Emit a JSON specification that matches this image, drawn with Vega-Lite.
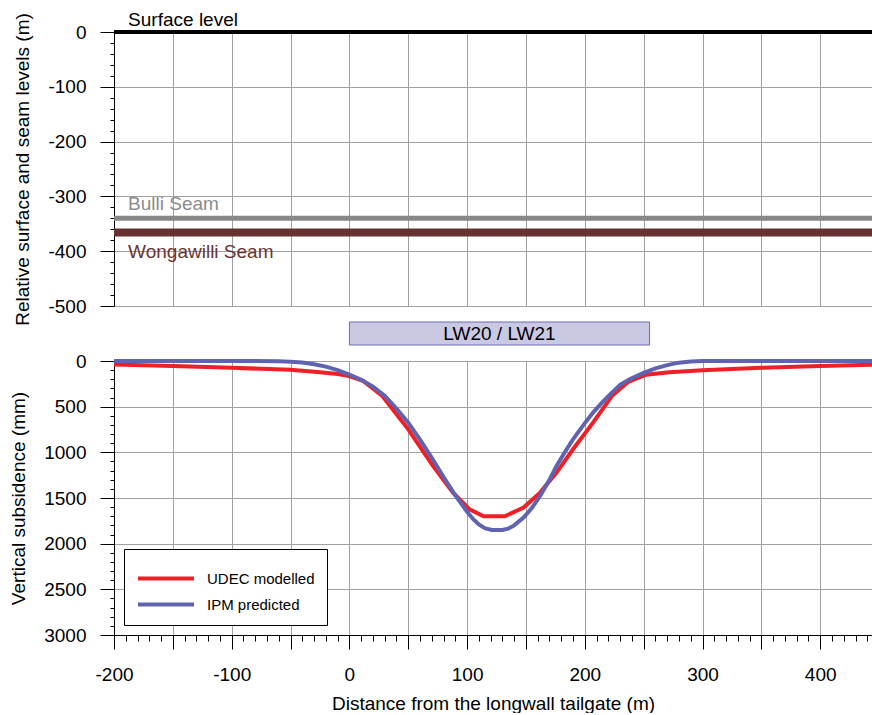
{
  "$schema": "https://vega.github.io/schema/vega-lite/v6.json",
  "padding": {"left": 9, "top": 11, "right": 0, "bottom": 0},
  "spacing": 16,
  "bounds": "flush",
  "resolve": {"scale": {"color": "independent"}, "legend": {"color": "independent"}},
  "datasets": {
    "levels": [
      {"name": "Surface level", "level": 0},
      {"name": "Bulli Seam", "level": -340},
      {"name": "Wongawilli Seam", "level": -366}
    ],
    "panels": [
      {"panel": "LW20 / LW21", "start": 0, "end": 255}
    ],
    "subsidence": [
      {"series": "UDEC modelled", "x": -200, "s": 38},
      {"series": "UDEC modelled", "x": -150, "s": 55},
      {"series": "UDEC modelled", "x": -100, "s": 74},
      {"series": "UDEC modelled", "x": -50, "s": 97},
      {"series": "UDEC modelled", "x": -25, "s": 122},
      {"series": "UDEC modelled", "x": -10, "s": 142},
      {"series": "UDEC modelled", "x": 0, "s": 165},
      {"series": "UDEC modelled", "x": 12, "s": 220},
      {"series": "UDEC modelled", "x": 28, "s": 383},
      {"series": "UDEC modelled", "x": 50, "s": 748},
      {"series": "UDEC modelled", "x": 71, "s": 1149},
      {"series": "UDEC modelled", "x": 88, "s": 1441},
      {"series": "UDEC modelled", "x": 102, "s": 1623},
      {"series": "UDEC modelled", "x": 114, "s": 1700},
      {"series": "UDEC modelled", "x": 132, "s": 1700},
      {"series": "UDEC modelled", "x": 148, "s": 1605},
      {"series": "UDEC modelled", "x": 162, "s": 1441},
      {"series": "UDEC modelled", "x": 176, "s": 1222},
      {"series": "UDEC modelled", "x": 190, "s": 966},
      {"series": "UDEC modelled", "x": 207, "s": 675},
      {"series": "UDEC modelled", "x": 223, "s": 383},
      {"series": "UDEC modelled", "x": 237, "s": 228},
      {"series": "UDEC modelled", "x": 252, "s": 150},
      {"series": "UDEC modelled", "x": 272, "s": 122},
      {"series": "UDEC modelled", "x": 300, "s": 100},
      {"series": "UDEC modelled", "x": 350, "s": 74},
      {"series": "UDEC modelled", "x": 400, "s": 55},
      {"series": "UDEC modelled", "x": 444, "s": 41},
      {"series": "IPM predicted", "x": -200, "s": 0},
      {"series": "IPM predicted", "x": -100, "s": 0},
      {"series": "IPM predicted", "x": -60, "s": 2},
      {"series": "IPM predicted", "x": -50, "s": 7},
      {"series": "IPM predicted", "x": -40, "s": 16},
      {"series": "IPM predicted", "x": -30, "s": 35},
      {"series": "IPM predicted", "x": -20, "s": 62},
      {"series": "IPM predicted", "x": -10, "s": 100},
      {"series": "IPM predicted", "x": 0, "s": 148},
      {"series": "IPM predicted", "x": 10, "s": 205},
      {"series": "IPM predicted", "x": 20, "s": 280},
      {"series": "IPM predicted", "x": 30, "s": 380},
      {"series": "IPM predicted", "x": 40, "s": 520},
      {"series": "IPM predicted", "x": 50, "s": 675},
      {"series": "IPM predicted", "x": 60, "s": 860},
      {"series": "IPM predicted", "x": 70, "s": 1060},
      {"series": "IPM predicted", "x": 80, "s": 1270},
      {"series": "IPM predicted", "x": 90, "s": 1470},
      {"series": "IPM predicted", "x": 100, "s": 1650},
      {"series": "IPM predicted", "x": 105, "s": 1730},
      {"series": "IPM predicted", "x": 110, "s": 1790},
      {"series": "IPM predicted", "x": 115, "s": 1830},
      {"series": "IPM predicted", "x": 121, "s": 1850},
      {"series": "IPM predicted", "x": 130, "s": 1850},
      {"series": "IPM predicted", "x": 135, "s": 1835},
      {"series": "IPM predicted", "x": 140, "s": 1800},
      {"series": "IPM predicted", "x": 148, "s": 1714},
      {"series": "IPM predicted", "x": 155, "s": 1610},
      {"series": "IPM predicted", "x": 162, "s": 1477},
      {"series": "IPM predicted", "x": 170, "s": 1300},
      {"series": "IPM predicted", "x": 176, "s": 1149},
      {"series": "IPM predicted", "x": 183, "s": 1000},
      {"series": "IPM predicted", "x": 190, "s": 857},
      {"series": "IPM predicted", "x": 200, "s": 680},
      {"series": "IPM predicted", "x": 207, "s": 565},
      {"series": "IPM predicted", "x": 215, "s": 450},
      {"series": "IPM predicted", "x": 223, "s": 346},
      {"series": "IPM predicted", "x": 230, "s": 262},
      {"series": "IPM predicted", "x": 238, "s": 201},
      {"series": "IPM predicted", "x": 250, "s": 130},
      {"series": "IPM predicted", "x": 260, "s": 80},
      {"series": "IPM predicted", "x": 270, "s": 45},
      {"series": "IPM predicted", "x": 280, "s": 18},
      {"series": "IPM predicted", "x": 290, "s": 5},
      {"series": "IPM predicted", "x": 300, "s": 0},
      {"series": "IPM predicted", "x": 444, "s": 0}
    ]
  },
  "vconcat": [
    {
      "width": 758,
      "height": 274,
      "data": {"name": "levels"},
      "encoding": {
        "y": {
          "field": "level", "type": "quantitative",
          "scale": {"domain": [-500, 0], "nice": false, "zero": false},
          "axis": {
            "title": "Relative surface and seam levels (m)",
            "values": [-500,-480,-460,-440,-420,-400,-380,-360,-340,-320,-300,-280,-260,-240,-220,-200,-180,-160,-140,-120,-100,-80,-60,-40,-20,0],
            "tickSize": {"condition": {"test": "datum.value % 100 === 0", "value": 14}, "value": 4},
            "gridOpacity": {"condition": {"test": "datum.value % 100 === 0", "value": 1}, "value": 0},
            "labelExpr": "datum.value % 100 === 0 ? '' + datum.value : ''",
            "labelPadding": 14,
            "titlePadding": 15,
            "labelOverlap": false
          }
        }
      },
      "layer": [
        {
          "transform": [{"filter": "datum.name === 'Bulli Seam'"}],
          "mark": {"type": "rule", "color": "#888888", "strokeWidth": 5}
        },
        {
          "transform": [{"filter": "datum.name === 'Wongawilli Seam'"}],
          "mark": {"type": "rule", "color": "#673131", "strokeWidth": 8}
        },
        {
          "transform": [{"filter": "datum.name === 'Surface level'"}],
          "mark": {"type": "rule", "color": "black", "strokeWidth": 4}
        },
        {
          "transform": [{"filter": "datum.name === 'Surface level'"}],
          "mark": {"type": "text", "align": "left", "baseline": "alphabetic", "dy": -6, "fontSize": 19, "color": "black"},
          "encoding": {
            "x": {
              "datum": -188, "type": "quantitative",
              "scale": {"domain": [-200, 444], "nice": false, "zero": false},
              "axis": {"values": [-200,-150,-100,-50,0,50,100,150,200,250,300,350,400], "grid": true, "ticks": false, "labels": false, "domain": false, "title": null}
            },
            "text": {"field": "name"}
          }
        },
        {
          "transform": [{"filter": "datum.name === 'Bulli Seam'"}],
          "mark": {"type": "text", "align": "left", "baseline": "alphabetic", "dy": -8, "fontSize": 19, "color": "#8c8c8c"},
          "encoding": {
            "x": {
              "datum": -188, "type": "quantitative",
              "axis": {"values": [-200,-150,-100,-50,0,50,100,150,200,250,300,350,400], "grid": true, "ticks": false, "labels": false, "domain": false, "title": null}
            },
            "text": {"field": "name"}
          }
        },
        {
          "transform": [{"filter": "datum.name === 'Wongawilli Seam'"}],
          "mark": {"type": "text", "align": "left", "baseline": "alphabetic", "dy": 25, "fontSize": 19, "color": "#6b3434"},
          "encoding": {
            "x": {
              "datum": -188, "type": "quantitative",
              "axis": {"values": [-200,-150,-100,-50,0,50,100,150,200,250,300,350,400], "grid": true, "ticks": false, "labels": false, "domain": false, "title": null}
            },
            "text": {"field": "name"}
          }
        }
      ]
    },
    {
      "width": 758,
      "height": 23,
      "data": {"name": "panels"},
      "layer": [
        {
          "mark": {"type": "rect", "fill": "#cac9e4", "stroke": "#6b6bb0", "strokeWidth": 1},
          "encoding": {
            "x": {"field": "start", "type": "quantitative", "scale": {"domain": [-200, 444], "nice": false, "zero": false}, "axis": null},
            "x2": {"field": "end"}
          }
        },
        {
          "mark": {"type": "text", "fontSize": 19, "color": "black", "baseline": "middle"},
          "encoding": {
            "x": {"datum": 127.5, "type": "quantitative", "axis": null},
            "text": {"field": "panel"}
          }
        }
      ]
    },
    {
      "width": 758,
      "height": 274,
      "data": {"name": "subsidence"},
      "encoding": {
        "x": {
          "field": "x", "type": "quantitative",
          "scale": {"domain": [-200, 444], "nice": false, "zero": false},
          "axis": {
            "title": "Distance from the longwall tailgate (m)",
            "values": [-200,-190,-180,-170,-160,-150,-140,-130,-120,-110,-100,-90,-80,-70,-60,-50,-40,-30,-20,-10,0,10,20,30,40,50,60,70,80,90,100,110,120,130,140,150,160,170,180,190,200,210,220,230,240,250,260,270,280,290,300,310,320,330,340,350,360,370,380,390,400,410,420,430,440],
            "tickSize": {"condition": {"test": "datum.value % 50 === 0", "value": 14}, "value": 6},
            "gridOpacity": {"condition": {"test": "datum.value % 50 === 0", "value": 1}, "value": 0},
            "labelExpr": "datum.value % 100 === 0 ? '' + datum.value : ''",
            "labelPadding": 16,
            "titlePadding": 10,
            "labelOverlap": false,
            "labelFlush": false
          }
        },
        "y": {
          "field": "s", "type": "quantitative",
          "scale": {"domain": [0, 3000], "reverse": true, "nice": false},
          "axis": {
            "title": "Vertical subsidence (mm)",
            "values": [0,100,200,300,400,500,600,700,800,900,1000,1100,1200,1300,1400,1500,1600,1700,1800,1900,2000,2100,2200,2300,2400,2500,2600,2700,2800,2900,3000],
            "tickSize": {"condition": {"test": "datum.value % 500 === 0", "value": 14}, "value": 4},
            "gridOpacity": {"condition": {"test": "datum.value % 500 === 0", "value": 1}, "value": 0},
            "labelExpr": "datum.value % 500 === 0 ? '' + datum.value : ''",
            "labelPadding": 14,
            "titlePadding": 15,
            "labelOverlap": false
          }
        },
        "color": {
          "field": "series", "type": "nominal",
          "scale": {"domain": ["UDEC modelled", "IPM predicted"], "range": ["#ee1f26", "#6064b0"]},
          "legend": {
            "title": " ",
            "titleFontSize": 8,
            "titlePadding": 2,
            "orient": "bottom-left",
            "offset": 10,
            "padding": 12,
            "strokeColor": "black",
            "fillColor": "white",
            "symbolType": "stroke",
            "symbolSize": 3136,
            "symbolStrokeWidth": 4,
            "clipHeight": 15,
            "rowPadding": 10,
            "labelFontSize": 15,
            "labelOffset": 11,
            "labelColor": "black"
          }
        }
      },
      "layer": [
        {
          "transform": [{"filter": "datum.series === 'UDEC modelled'"}],
          "mark": {"type": "line", "strokeWidth": 4}
        },
        {
          "transform": [{"filter": "datum.series === 'IPM predicted'"}],
          "mark": {"type": "line", "strokeWidth": 4}
        }
      ]
    }
  ],
  "config": {
    "font": "Liberation Sans",
    "view": {"stroke": null},
    "axis": {
      "labelFont": "Liberation Sans",
      "titleFont": "Liberation Sans",
      "labelFontSize": 19,
      "titleFontSize": 19,
      "titleFontWeight": "normal",
      "labelColor": "black",
      "titleColor": "black",
      "domainColor": "black",
      "tickColor": "black",
      "gridColor": "#a0a0a0"
    },
    "legend": {"labelFont": "Liberation Sans", "titleFont": "Liberation Sans"}
  }
}
